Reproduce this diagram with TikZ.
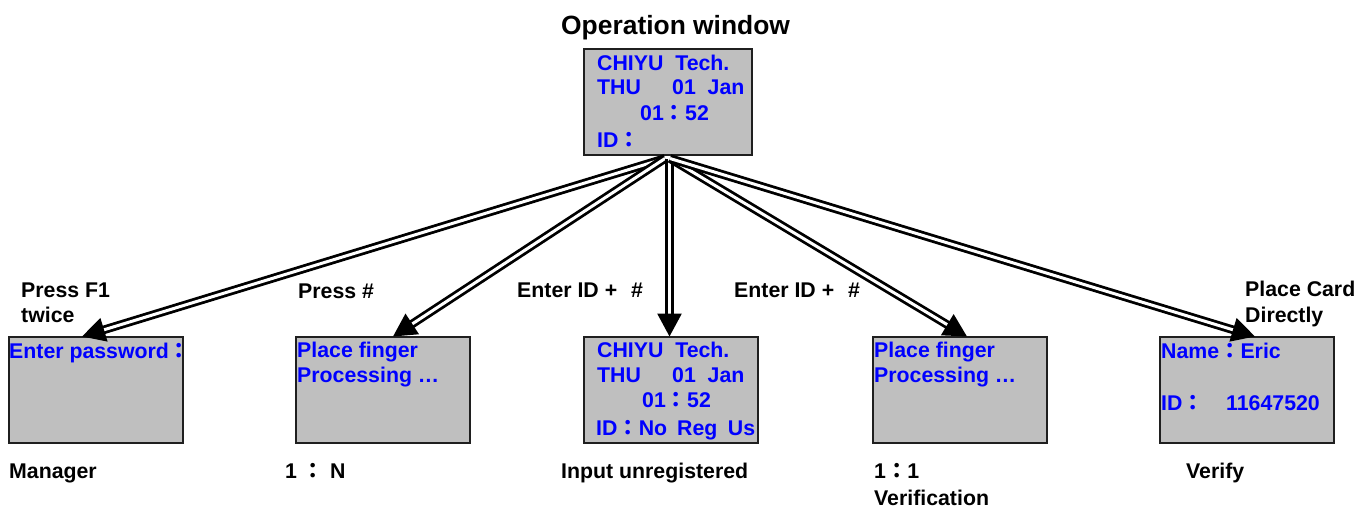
\documentclass[tikz,border=0pt]{standalone}
\usepackage{fontspec}
\setmainfont{Liberation Sans}
\newfontfamily\cjk{Noto Sans CJK TC}
\newcommand{\fc}{{\cjk\bfseries ：}}
\usetikzlibrary{arrows.meta}
\tikzset{
  panel/.style={draw=black!88,fill=black!25,line width=2pt,outer sep=0pt,minimum width=174pt,minimum height=106.5pt,inner sep=0pt,anchor=north west},
  screen/.style={anchor=base west,inner sep=0pt,text=blue,font=\fontsize{21.3}{24}\selectfont\bfseries},
  caption/.style={anchor=base west,inner sep=0pt,text=black,font=\fontsize{21.3}{24}\selectfont\bfseries},
  flow/.style={double,double distance=3pt,line width=2.8pt,-{Triangle[length=23pt,width=24pt]}}
}
\begin{document}
\begin{tikzpicture}[x=1pt,y=-1pt]
\useasboundingbox (0,0) rectangle (1358,507);
\node[panel,minimum width=168pt,minimum height=106pt] (opw) at (584,49) {};
\node[panel] (pw) at (8.5,336.5) {};
\node[panel] (fing) at (296,336.5) {};
\node[panel] (unreg) at (584,336.5) {};
\node[panel] (ver) at (873,336.5) {};
\node[panel] (card) at (1160,336.5) {};
\node[caption,font=\fontsize{26.4}{30}\selectfont\bfseries] (title) at (561,34.5) {Operation window};
\node[screen] (a1) at (597,70) {CHIYU\ \ Tech.};
\node[screen] (a2) at (597,94) {THU};
\node[screen] (a3) at (672,94) {01\ \ Jan};
\node[screen] (a4) at (640,120) {01\fc 52};
\node[screen] (a5) at (597,147) {ID\fc};
\node[screen] (b1) at (9,358) {Enter password\fc};
\node[screen] (c1) at (297,357) {Place finger};
\node[screen] (c2) at (297,382) {Processing …};
\node[screen] (d1) at (597,357) {CHIYU\ \ Tech.};
\node[screen] (d2) at (597,382) {THU};
\node[screen] (d3) at (672,382) {01\ \ Jan};
\node[screen] (d4) at (642,407) {01\fc 52};
\node[screen] (d5) at (596,435) {ID\fc No\hspace{10pt}Reg\hspace{10.5pt}Us};
\node[screen] (e1) at (874,357) {Place finger};
\node[screen] (e2) at (874,382) {Processing …};
\node[screen] (f1) at (1161,358) {Name\fc Eric};
\node[screen] (f2) at (1161,410) {ID\fc};
\node[screen] (f3) at (1226,410) {11647520};
\node[caption] (t1) at (21,297) {Press F1};
\node[caption] (t2) at (21,322) {twice};
\node[caption] (t3) at (298,298) {Press \#};
\node[caption] (t4) at (517,297) {Enter ID +\hspace{14pt}\#};
\node[caption] (t5) at (734,297) {Enter ID +\hspace{14pt}\#};
\node[caption] (t6) at (1245,296) {Place Card};
\node[caption] (t7) at (1245,322) {Directly};
\node[caption] (u1) at (9,478) {Manager};
\node[caption] (u2) at (285,478) {1\ \fc\ N};
\node[caption] (u3) at (561,478) {Input unregistered};
\node[caption] (u4) at (874,478) {1\fc 1};
\node[caption] (u5) at (874,505) {Verification};
\node[caption] (u6) at (1186,478) {Verify};
\draw[flow] ([xshift=-3,yshift=-3.5]opw.south) -- ([xshift=-13.5]pw.north);
\draw[flow] ([xshift=-3,yshift=-3.5]opw.south) -- ([xshift=10]fing.north);
\draw[flow] ([xshift=1.5,yshift=-3.5]opw.south) -- ([xshift=-1.5]unreg.north);
\draw[flow] ([xshift=2,yshift=-3.5]opw.south) -- ([xshift=7]ver.north);
\draw[flow] ([xshift=2,yshift=-3.5]opw.south) -- ([xshift=8]card.north);
\end{tikzpicture}
\end{document}
